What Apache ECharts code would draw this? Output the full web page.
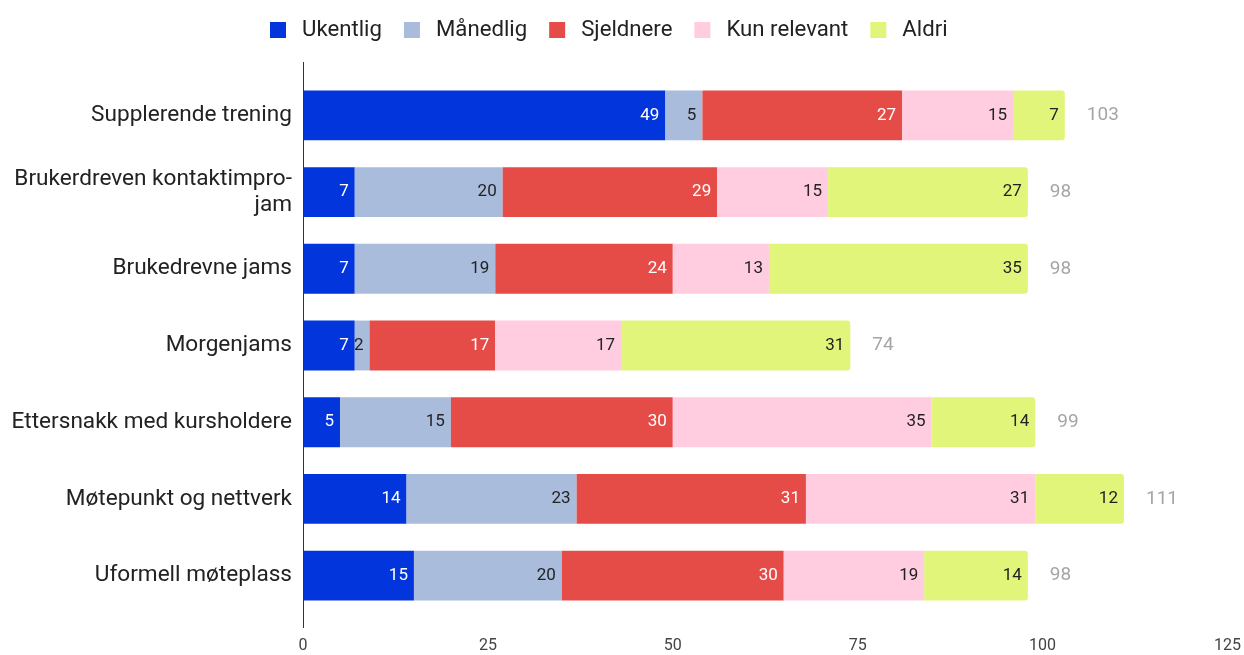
<!DOCTYPE html>
<html>
<head>
<meta charset="utf-8">
<script src="https://cdn.jsdelivr.net/npm/echarts@6/dist/echarts.min.js"></script>
<style>
  html, body { margin: 0; padding: 0; background: #fff; }
  #chart_bar { width: 1244px; height: 655px; }
</style>
</head>
<body>
<div id="chart_bar"></div>
<script>
const categories = [
  'Supplerende trening',
  'Brukerdreven kontaktimpro-\njam',
  'Brukedrevne jams',
  'Morgenjams',
  'Ettersnakk med kursholdere',
  'Møtepunkt og nettverk',
  'Uformell møteplass'
]
const ukentlig = [49, 7, 7, 7, 5, 14, 15]
const maanedlig = [5, 20, 19, 2, 15, 23, 20]
const sjeldnere = [27, 29, 24, 17, 30, 31, 30]
const kunRelevant = [15, 15, 13, 17, 35, 31, 19]
const aldri = [7, 27, 35, 31, 14, 12, 14]
const totals = [103, 98, 98, 74, 99, 111, 98]
const xTicks = [0, 25, 50, 75, 100, 125]

const chart = echarts.init(document.getElementById('chart_bar'))

function seg(name, data, color, labelColor, radius) {
  return {
    name: name,
    type: 'bar',
    stack: 'all',
    barWidth: '65%',
    data: data,
    itemStyle: { color: color, borderRadius: radius || 0 },
    label: {
      show: true,
      position: 'insideRight',
      distance: 6,
      color: labelColor,
      fontSize: 17,
      fontFamily: 'Roboto'
    }
  }
}

chart.setOption({
  animation: false,
  textStyle: { fontFamily: 'Roboto' },
  legend: {
    top: 14,
    left: 265,
    itemWidth: 16,
    itemHeight: 16,
    itemGap: 22,
    icon: 'rect',
    textStyle: { fontSize: 22.2, color: '#222', fontFamily: 'Roboto', padding: [0, 0, 0, 11] },
    data: ['Ukentlig', 'Månedlig', 'Sjeldnere', 'Kun relevant', 'Aldri']
  },
  grid: { left: 303, right: 16, top: 77, bottom: 41 },
  graphic: [{
    type: 'line',
    shape: { x1: 303.5, y1: 62, x2: 303.5, y2: 628 },
    style: { stroke: '#333', lineWidth: 1 },
    z: 10
  }],
  xAxis: {
    type: 'value',
    min: xTicks[0],
    max: xTicks[xTicks.length - 1],
    interval: 25,
    axisLine: { show: false },
    axisTick: { show: false },
    splitLine: { show: false },
    axisLabel: { color: '#444', fontSize: 16, margin: 24 }
  },
  yAxis: {
    type: 'category',
    inverse: true,
    data: categories,
    axisTick: { show: false },
    axisLine: { show: false },
    axisLabel: { color: '#222', fontSize: 22.6, margin: 11, lineHeight: 26, align: 'right' }
  },
  series: [
    seg('Ukentlig', ukentlig, '#0335DC', '#fff'),
    seg('Månedlig', maanedlig, '#A9BCDB', '#222'),
    seg('Sjeldnere', sjeldnere, '#E64C47', '#fff'),
    seg('Kun relevant', kunRelevant, '#FFCCE0', '#222'),
    seg('Aldri', aldri, '#E0F57A', '#222', [0, 3, 3, 0]),
    {
      name: 'total',
      type: 'scatter',
      symbolSize: 0,
      data: totals.map((t, i) => [t, categories[i]]),
      label: {
        show: true,
        position: 'right',
        distance: 22,
        color: '#8F8F8F',
        fontSize: 19,
        formatter: p => p.value[0]
      }
    }
  ]
})
</script>
</body>
</html>
